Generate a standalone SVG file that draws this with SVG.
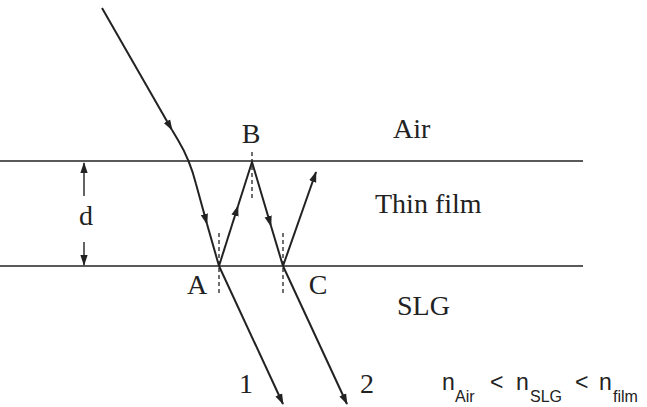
<svg xmlns="http://www.w3.org/2000/svg" width="647" height="407" viewBox="0 0 647 407">
<defs>
<marker id="ah" viewBox="0 0 12 8" refX="11" refY="4" markerWidth="11" markerHeight="8" markerUnits="userSpaceOnUse" orient="auto">
<path d="M0,0 L12,4 L0,8 z" fill="#222"/>
</marker>
</defs>
<style>
.iface{stroke:#222;stroke-width:1.4;fill:none}
.ray{stroke:#222;stroke-width:2;fill:none;stroke-linejoin:round}
.norm{stroke:#222;stroke-width:1.3;stroke-dasharray:4,3;fill:none}
.dim{stroke:#222;stroke-width:1.4;fill:none}
.lbl{font-family:"Liberation Serif",serif;font-size:28px;fill:#222}
.eq{font-family:"Liberation Sans",sans-serif;fill:#222}
</style>
<rect width="647" height="407" fill="#ffffff"/>
<g id="interfaces">
<line class="iface" x1="0" y1="161" x2="583" y2="161"/>
<line class="iface" x1="0" y1="266" x2="583" y2="266"/>
</g>
<g id="connectors">
<path class="ray" d="M102,8 L172,130" marker-end="url(#ah)"/>
<path class="ray" d="M172,130 L178,140 Q190,160 196,184 L207,224" marker-end="url(#ah)"/>
<path class="ray" d="M207,224 L219,266"/>
<path class="ray" d="M219,266 L238,206" marker-end="url(#ah)"/>
<path class="ray" d="M238,206 L252,162 L271,226" marker-end="url(#ah)"/>
<path class="ray" d="M271,226 L283,266"/>
<path class="ray" d="M283,266 L316,172" marker-end="url(#ah)"/>
<path class="ray" d="M219,266 L283,404" marker-end="url(#ah)"/>
<path class="ray" d="M283,266 L347,404" marker-end="url(#ah)"/>
<line class="norm" x1="252" y1="152" x2="252" y2="200"/>
<line class="norm" x1="219" y1="233" x2="219" y2="296"/>
<line class="norm" x1="283" y1="233" x2="283" y2="296"/>
<path class="dim" d="M84,196 L84,163" marker-end="url(#ah)"/>
<path class="dim" d="M84,242 L84,265" marker-end="url(#ah)"/>
</g>
<g id="labels">
<text class="lbl" x="251" y="143" text-anchor="middle">B</text>
<text class="lbl" x="197" y="294" text-anchor="middle">A</text>
<text class="lbl" x="318" y="294" text-anchor="middle">C</text>
<text class="lbl" x="86" y="225" text-anchor="middle">d</text>
<text class="lbl" x="246" y="393" text-anchor="middle">1</text>
<text class="lbl" x="367" y="393" text-anchor="middle">2</text>
<text class="lbl" x="393" y="138">Air</text>
<text class="lbl" x="375" y="213">Thin film</text>
<text class="lbl" x="397" y="315">SLG</text>
</g>
<g id="equation">
<text class="eq" x="442" y="390" font-size="23">n</text>
<text class="eq" x="455" y="402" font-size="16">Air</text>
<text class="eq" x="490" y="390" font-size="23">&lt;</text>
<text class="eq" x="516" y="390" font-size="23">n</text>
<text class="eq" x="530" y="402" font-size="16">SLG</text>
<text class="eq" x="575" y="390" font-size="23">&lt;</text>
<text class="eq" x="599" y="390" font-size="23">n</text>
<text class="eq" x="613" y="402" font-size="16">film</text>
</g>
</svg>
